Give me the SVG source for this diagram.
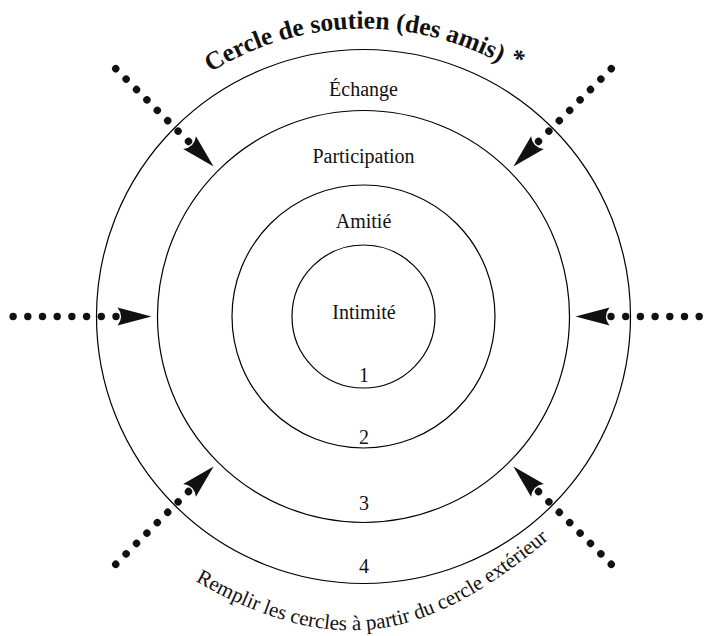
<svg xmlns="http://www.w3.org/2000/svg" xmlns:xlink="http://www.w3.org/1999/xlink" width="710" height="636" viewBox="0 0 710 636">
<style>
.ring{fill:none;stroke:#000;stroke-width:1.2}
.lbl{font-family:"Liberation Serif","Times New Roman",serif;font-size:20px;fill:#111;text-anchor:middle}
.title{font-family:"Liberation Serif","Times New Roman",serif;font-size:25.5px;font-weight:bold;fill:#111}
.note{font-family:"Liberation Serif","Times New Roman",serif;font-size:21px;fill:#111}
.dot{fill:#111}
.head{fill:#111}
</style>
<defs>
<g id="arrow">
<path class="head" d="M0,0 L-34,-9 Q-27,0 -34,9 Z"/>
<circle class="dot" cx="-35.5" cy="0" r="3.7"/>
<circle class="dot" cx="-50.2" cy="0" r="3.7"/>
<circle class="dot" cx="-64.9" cy="0" r="3.7"/>
<circle class="dot" cx="-79.6" cy="0" r="3.7"/>
<circle class="dot" cx="-94.3" cy="0" r="3.7"/>
<circle class="dot" cx="-109" cy="0" r="3.7"/>
<circle class="dot" cx="-123.7" cy="0" r="3.7"/>
<circle class="dot" cx="-138.4" cy="0" r="3.7"/>
</g>
<path id="titleArc" d="M114.1,172.5 A288,288 0 0 1 612.9,172.5"/>
<path id="noteArc" d="M195,581 C335.3,660 423.9,642.5 548,540 L600,497"/>
</defs>

<g id="ring4">
<circle class="ring" cx="363.5" cy="316.5" r="267"/>
<text class="lbl" x="363.5" y="96">Échange</text>
<text class="lbl" x="364" y="573">4</text>
</g>
<g id="ring3">
<circle class="ring" cx="363.5" cy="316.5" r="206"/>
<text class="lbl" x="363.5" y="163">Participation</text>
<text class="lbl" x="364" y="510">3</text>
</g>
<g id="ring2">
<circle class="ring" cx="363.5" cy="316.5" r="131.5"/>
<text class="lbl" x="363.5" y="228">Amitié</text>
<text class="lbl" x="364" y="444">2</text>
</g>
<g id="ring1">
<circle class="ring" cx="363.5" cy="316.5" r="71.5"/>
<text class="lbl" x="364" y="319">Intimité</text>
<text class="lbl" x="364" y="382">1</text>
</g>

<g id="title">
<text class="title"><textPath xlink:href="#titleArc" href="#titleArc" startOffset="50%" text-anchor="middle">Cercle de soutien (des amis) <tspan dy="-4">*</tspan></textPath></text>
</g>
<g id="note">
<text class="note"><textPath xlink:href="#noteArc" href="#noteArc" startOffset="0">Remplir les cercles à partir du cercle extérieur</textPath></text>
</g>

<g id="connectors">
<use href="#arrow" xlink:href="#arrow" transform="translate(363.5,316.5) rotate(0) translate(-212,0)"/>
<use href="#arrow" xlink:href="#arrow" transform="translate(363.5,316.5) rotate(180) translate(-212,0)"/>
<use href="#arrow" xlink:href="#arrow" transform="translate(363.5,316.5) rotate(45) translate(-212,0)"/>
<use href="#arrow" xlink:href="#arrow" transform="translate(363.5,316.5) rotate(135) translate(-212,0)"/>
<use href="#arrow" xlink:href="#arrow" transform="translate(363.5,316.5) rotate(-45) translate(-212,0)"/>
<use href="#arrow" xlink:href="#arrow" transform="translate(363.5,316.5) rotate(-135) translate(-212,0)"/>
</g>
</svg>
